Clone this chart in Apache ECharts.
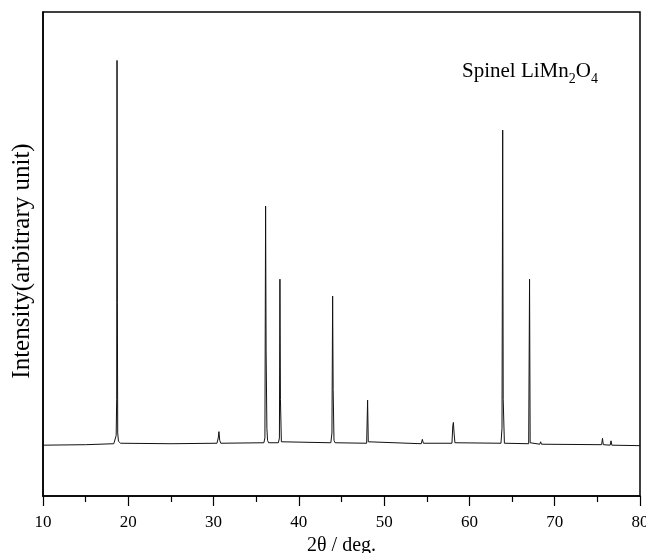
<!DOCTYPE html>
<html>
<head>
<meta charset="utf-8">
<script src="https://cdn.jsdelivr.net/npm/echarts@6/dist/echarts.min.js"></script>
<style>html,body{margin:0;padding:0;background:#fff}#c{width:646px;height:553px}</style>
</head>
<body>
<div id="c"></div>
<script>
// 2θ (deg) and intensity (arbitrary units)
const twoTheta = [
  10, 15, 18.3,
  18.45, 18.58, 18.64, 18.68, 18.72, 18.76, 18.85, 19.1,
  25, 30.4, 30.55, 30.63, 30.72, 30.85,
  35.9, 36.02, 36.1, 36.16, 36.25, 36.33, 36.45,
  37.6, 37.72, 37.78, 37.84, 37.95,
  43.75, 43.88, 43.96, 44.02, 44.12, 44.25,
  47.95, 48.06, 48.14, 48.3,
  54.35, 54.48, 54.6,
  57.95, 58.05, 58.12, 58.2, 58.3,
  63.7, 63.82, 63.9, 63.96, 64.1,
  66.95, 67.05, 67.12,
  68.25, 68.35, 68.45,
  75.5, 75.6, 75.7, 76.5, 76.6, 76.7,
  80
];
const intensity = [
  10.5, 10.6, 10.8,
  11.2, 12.5, 20, 90, 40, 13, 11.3, 10.9,
  10.8, 10.9, 12, 13.3, 11.5, 10.9,
  11, 12, 59.9, 30, 14, 11.5, 11,
  11, 12, 44.8, 20, 11.2,
  11, 13, 41.3, 22, 11.5, 11,
  10.9, 19.8, 11.2, 10.9,
  10.8, 11.7, 10.9,
  10.9, 14.5, 15.2, 13, 11,
  10.9, 14, 75.6, 20, 10.9,
  10.8, 44.8, 11,
  10.7, 11.2, 10.7,
  10.6, 11.9, 10.6, 10.5, 11.4, 10.5,
  10.4
];
const xTickValues = [10, 20, 30, 40, 50, 60, 70, 80];

const pattern = twoTheta.map((t, i) => [t, intensity[i]]);
const serif = '"Liberation Serif", "Times New Roman", serif';

const chart = echarts.init(document.getElementById('c'), null, {renderer: 'canvas'});
chart.setOption({
  animation: false,
  backgroundColor: '#fff',
  grid: {left: 43, right: 6, top: 12, bottom: 57, outerBoundsMode: 'none', containLabel: false,
         show: true, borderColor: '#000', borderWidth: 1.5, backgroundColor: 'transparent'},
  xAxis: {
    type: 'value', min: xTickValues[0], max: xTickValues[xTickValues.length - 1], interval: 10,
    name: '2θ / deg.', nameLocation: 'middle', nameGap: 37,
    nameTextStyle: {fontFamily: serif, fontSize: 20, color: '#000'},
    axisLine: {show: true, onZero: false, lineStyle: {color: '#000', width: 1.5}},
    axisTick: {show: true, inside: false, length: 10, lineStyle: {color: '#000', width: 1.2}},
    minorTick: {show: true, splitNumber: 2, length: 6, lineStyle: {color: '#000', width: 1.2}},
    axisLabel: {fontFamily: serif, fontSize: 17, color: '#000', margin: 18, showMaxLabel: true, showMinLabel: true, hideOverlap: false},
    splitLine: {show: false}
  },
  yAxis: {
    type: 'value', min: 0, max: 100,
    axisLine: {show: true, lineStyle: {color: '#000', width: 1.5}},
    axisTick: {show: false}, axisLabel: {show: false}, splitLine: {show: false}
  },
  graphic: [{
    type: 'text', x: 22, y: 261, rotation: Math.PI / 2,
    style: {text: 'Intensity(arbitrary unit)', fontFamily: serif, fontSize: 25, fill: '#000', align: 'center', verticalAlign: 'middle'}
  }, {
    type: 'text', left: 462, top: 61,
    style: {
      text: '{m|Spinel LiMn}{s|2}{m|O}{s|4}',
      rich: {
        m: {fontFamily: serif, fontSize: 21, color: '#000', lineHeight: 30},
        s: {fontFamily: serif, fontSize: 14, color: '#000', verticalAlign: 'bottom', lineHeight: 30}
      }
    }
  }],
  series: [{
    type: 'line', data: pattern, showSymbol: false, symbol: 'none',
    lineStyle: {color: '#111', width: 1}, silent: true
  }]
});
</script>
</body>
</html>
